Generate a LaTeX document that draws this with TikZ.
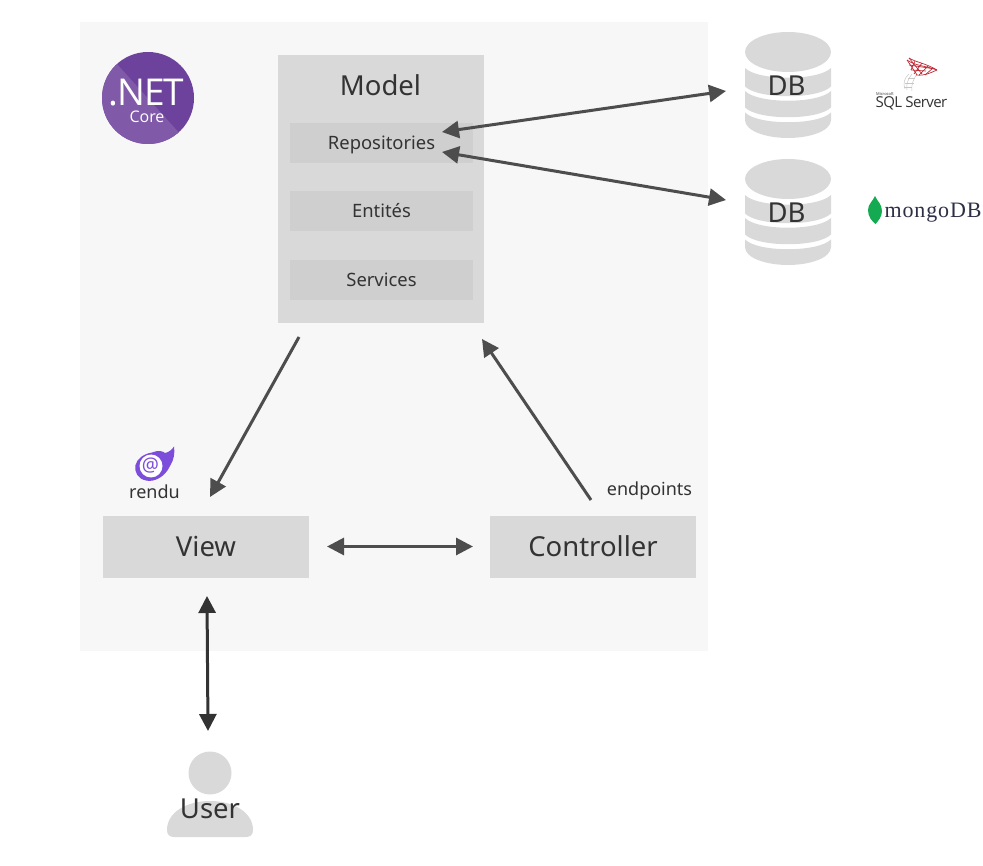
\documentclass[tikz,border=0pt]{standalone}
\usepackage{fontspec}
\setmainfont{Noto Sans}
\newfontfamily\logofont{Open Sans}
\newfontfamily\mongofont[LetterSpace=4]{Liberation Serif}
\usetikzlibrary{arrows.meta}
\definecolor{panel}{HTML}{F7F7F7}
\definecolor{boxgrey}{HTML}{D9D9D9}
\definecolor{innergrey}{HTML}{CFCFCF}
\definecolor{ink}{HTML}{333333}
\definecolor{arrowgrey}{HTML}{4D4D4D}
\definecolor{netpurple}{HTML}{6D429C}
\definecolor{netlight}{HTML}{8059A8}
\definecolor{blazor}{HTML}{7C4DDB}
\definecolor{sqlred}{HTML}{BE2A35}
\definecolor{leaf}{HTML}{13AA52}
\tikzset{
  x=1pt,y=-1pt,
  box/.style={fill=boxgrey,minimum width=206pt,minimum height=62pt,inner sep=0pt,text=ink,font=\fontsize{27.5}{27.5}\selectfont,text height=19pt,text depth=0pt},
  subbox/.style={fill=innergrey,minimum width=183pt,minimum height=40pt,inner sep=0pt,text=ink,font=\fontsize{18.4}{18.4}\selectfont,text height=13pt,text depth=0pt},
  label/.style={inner sep=0pt,text=ink,font=\fontsize{18}{18}\selectfont,text height=13pt,text depth=0pt},
  biglabel/.style={inner sep=0pt,text=ink,font=\fontsize{27.5}{27.5}\selectfont,text height=19pt,text depth=0pt},
  conn/.style={draw=arrowgrey,line width=3pt,-{Stealth[length=17pt,width=17pt,inset=0pt]}},
  bothconn/.style={conn,{Stealth[length=17pt,width=17pt,inset=0pt]}-{Stealth[length=17pt,width=17pt,inset=0pt]}},
  web/.style={draw=sqlred,line width=0.7pt},
  ghost/.style={draw=black!22,line width=0.5pt},
}
\newcommand{\dbband}[2]{% top edge y, bottom edge y
  \fill[boxgrey] (-43,#1) .. controls (-30,#1+13) and (30,#1+13) .. (43,#1) -- (43,#2) .. controls (30,#2+13) and (-30,#2+13) .. (-43,#2) -- cycle;}
\newcommand{\dbicon}[1]{%
  \begin{scope}[shift={(788,#1)}]
    \fill[boxgrey] (0,0) ellipse [x radius=43,y radius=20];
    \dbband{16}{34.5}
    \dbband{39}{55.5}
    \fill[boxgrey] (-43,60.5) .. controls (-30,73.5) and (30,73.5) .. (43,60.5) -- (43,68) .. controls (43,79) and (22,86) .. (0,86) .. controls (-22,86) and (-43,79) .. (-43,68) -- cycle;
  \end{scope}}
\begin{document}
\begin{tikzpicture}
\useasboundingbox (0,0) rectangle (983,866);
\fill[panel] (80,22) rectangle (708,651);

% .NET Core logo
\fill[netpurple] (148,98) circle [radius=46];
\begin{scope}
  \clip (148,98) circle [radius=46];
  \fill[netlight] (102,52) -- (117,64) -- (182,136) -- (182,160) -- (90,160) -- (90,52) -- cycle;
\end{scope}
\node[anchor=base,inner sep=0pt,text=white,font=\logofont\fontsize{37}{37}\selectfont,text height=27pt,text depth=0pt] (netword) at (146.5,105.5) {\addfontfeature{LetterSpace=-3}.NET};
\node[anchor=base,inner sep=0pt,text=white,font=\logofont\fontsize{16}{16}\selectfont,text height=12pt,text depth=0pt] (coreword) at (147,123) {Core};

% Model block
\fill[boxgrey] (278,55) rectangle (484,323);
\node[biglabel] (modeltitle) at (380.5,86.5) {Model};
\node[subbox] (repos) at (381.5,143) {Repositories};
\node[subbox] (entites) at (381.5,211.5) {Entités};
\node[subbox] (services) at (381.5,280) {Services};
\coordinate (modelout) at (299,337);
\coordinate (modelin) at (482,339);
\coordinate (reposA) at (442,132);
\coordinate (reposB) at (442,152);

% View, Controller
\node[box] (view) at (206,546.5) {View};
\node[box] (controller) at (593,546.5) {Controller};
\node[label] (endpoints) at (649.5,489.5) {endpoints};
\node[label] (rendu) at (154.5,491.5) {rendu};

% Blazor logo
\fill[blazor] (152,452.5) .. controls (158,450) and (163,451) .. (165,453)
    .. controls (168,452.5) and (172,450) .. (174,446.5)
    .. controls (175,453) and (174,460) .. (170,466)
    .. controls (165,477) and (154,482.5) .. (146,480.5)
    .. controls (138,479) and (134,472) .. (135.5,465)
    .. controls (137,459) and (143,454) .. (152,452.5) -- cycle;
\fill[white] (151,466) circle [radius=11.5];
\node[inner sep=0pt,text=blazor,font=\bfseries\fontsize{19}{19}\selectfont] (blazorat) at (150.5,465.5) {@};

% databases
\dbicon{52}
\dbicon{179}
\node[biglabel] (dbone) at (786.5,86.5) {DB};
\node[biglabel] (dbtwo) at (786.5,213.5) {DB};
\coordinate (dbAin) at (726,91);
\coordinate (dbBin) at (726,200);

% SQL Server logo
\draw[ghost] (909,74) .. controls (904,78) and (903,84) .. (905,89);
\draw[ghost] (912,74) .. controls (908,79) and (906,84) .. (907,90);
\draw[ghost] (917,74) .. controls (913,80) and (911,85) .. (912,91);
\draw[ghost] (905,83) -- (914,83) (904,87) -- (912,87) (908,78) -- (915,78);
\draw[web] (909,58) .. controls (915,62) and (925,63) .. (937,70);
\draw[web] (907,60) .. controls (911,66) and (915,72) .. (917,75);
\draw[web] (937,70) .. controls (930,73) and (925,76) .. (916,75);
\draw[web] (907,60) .. controls (915,66) and (927,66) .. (937,70);
\draw[web] (909,58) -- (922,74) (915,61) -- (911,70) (922,63) -- (914,74) (928,66) -- (919,75) (933,68) -- (925,75);
\draw[web] (911,70) -- (926,71) (909,65) -- (935,69);
\node[inner sep=0pt,text=ink,font=\logofont\fontsize{4}{4}\selectfont] (msword) at (885,93.5) {Microsoft};
\node[inner sep=0pt,text=ink,font=\logofont\fontsize{15}{15}\selectfont] (sqlword) at (911.5,103) {\addfontfeature{LetterSpace=-4}SQL Server};

% mongoDB logo
\fill[leaf] (875,196) .. controls (877,201) and (882,204) .. (882,211) .. controls (882,217) and (878,221) .. (875.5,224) .. controls (872,221) and (868,217) .. (868,210) .. controls (868,204) and (873,201) .. (875,196) -- cycle;
\node[inner sep=0pt,text=ink!90!blue,font=\mongofont\fontsize{22}{22}\selectfont] (mongoword) at (933,213) {mongoDB};

% user
\fill[boxgrey] (210,773) circle [radius=21.5];
\fill[boxgrey] (167,830) .. controls (167,812) and (187,801) .. (210,801) .. controls (233,801) and (253,812) .. (253,830) .. controls (253,835) and (250,837) .. (246,837) -- (174,837) .. controls (170,837) and (167,835) .. (167,830) -- cycle;
\node[biglabel] (userword) at (210,808.5) {User};
\coordinate (viewtop) at (207,596);
\coordinate (userbottom) at (208,731);
\coordinate (viewR) at (327,546.5);
\coordinate (ctrlL) at (473,546.5);
\coordinate (viewin) at (210,497);
\coordinate (ctrlout) at (591,500);

% connectors
\draw[bothconn] (reposA) -- (dbAin);
\draw[bothconn] (reposB) -- (dbBin);
\draw[conn] (modelout) -- (viewin);
\draw[conn] (ctrlout) -- (modelin);
\draw[bothconn] (viewR) -- (ctrlL);
\draw[bothconn,draw=ink] (viewtop) -- (userbottom);
\end{tikzpicture}
\end{document}
